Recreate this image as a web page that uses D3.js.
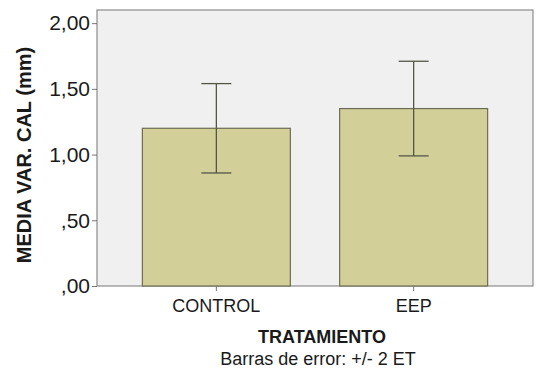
<!DOCTYPE html>
<html lang="es">
<head>
<meta charset="UTF-8">
<title>Media var. cal por tratamiento</title>
<script src="https://d3js.org/d3.v7.min.js"></script>
<style>
  body { margin: 0; background: #fff; }
  svg text { font-family: "Liberation Sans", Arial, sans-serif; fill: #1a1a1a; }
</style>
</head>
<body>
<div id="chart"></div>
<script>
  // datos
  var grupos = ["CONTROL", "EEP"];
  var medias = [1.20, 1.35];
  var errInf = [0.86, 0.99];
  var errSup = [1.54, 1.71];
  var ticksY = [0, 0.5, 1.0, 1.5, 2.0];

  var ancho = 537, alto = 376;
  var m = {arriba: 10, derecha: 4, abajo: 90, izq: 97};

  var svg = d3.select("#chart").append("svg")
      .attr("width", ancho)
      .attr("height", alto);

  var x = d3.scaleBand()
      .domain(grupos)
      .range([m.izq, ancho - m.derecha])
      .paddingInner(0.25)
      .paddingOuter(0.23);

  var y = d3.scaleLinear()
      .domain([0, 2.1])
      .range([alto - m.abajo, m.arriba]);

  var fmt = function(d) {
    var s = d3.format(".2f")(d).replace(".", ",");
    return s.indexOf("0,") === 0 ? s.slice(1) : s;
  };

  // fondo del area
  svg.append("rect")
      .attr("x", m.izq)
      .attr("y", m.arriba)
      .attr("width", ancho - m.derecha - m.izq)
      .attr("height", y(0) - m.arriba)
      .attr("fill", "#f0f0f0")
      .attr("stroke", "#8c8c8c")
      .attr("stroke-width", 1.2);

  // barras
  svg.selectAll(".barra")
    .data(grupos)
    .enter().append("rect")
      .attr("class", "barra")
      .attr("x", function(d) { return x(d); })
      .attr("y", function(d, i) { return y(medias[i]); })
      .attr("width", x.bandwidth())
      .attr("height", function(d, i) { return y(0) - y(medias[i]); })
      .attr("fill", "#d3cf99")
      .attr("stroke", "#6e6c55")
      .attr("stroke-width", 1.2);

  // barras de error
  var cap = 15;
  var err = svg.selectAll(".err")
    .data(grupos)
    .enter().append("g")
      .attr("class", "err")
      .attr("stroke", "#555548")
      .attr("stroke-width", 1.3);
  err.append("line")
      .attr("x1", function(d) { return x(d) + x.bandwidth() / 2; })
      .attr("x2", function(d) { return x(d) + x.bandwidth() / 2; })
      .attr("y1", function(d, i) { return y(errInf[i]); })
      .attr("y2", function(d, i) { return y(errSup[i]); });
  err.append("line")
      .attr("x1", function(d) { return x(d) + x.bandwidth() / 2 - cap; })
      .attr("x2", function(d) { return x(d) + x.bandwidth() / 2 + cap; })
      .attr("y1", function(d, i) { return y(errSup[i]); })
      .attr("y2", function(d, i) { return y(errSup[i]); });
  err.append("line")
      .attr("x1", function(d) { return x(d) + x.bandwidth() / 2 - cap; })
      .attr("x2", function(d) { return x(d) + x.bandwidth() / 2 + cap; })
      .attr("y1", function(d, i) { return y(errInf[i]); })
      .attr("y2", function(d, i) { return y(errInf[i]); });

  // ejes
  var ejeY = svg.append("g")
      .attr("transform", "translate(" + m.izq + ",0)")
      .call(d3.axisLeft(y).tickValues(ticksY).tickFormat(fmt).tickSize(5).tickPadding(2));
  ejeY.select(".domain").remove();
  ejeY.selectAll(".tick line").attr("stroke", "#777");
  ejeY.selectAll("text").style("font-size", "21px");

  var ejeX = svg.append("g")
      .attr("transform", "translate(0," + y(0) + ")")
      .call(d3.axisBottom(x).tickSize(5).tickPadding(8));
  ejeX.select(".domain").remove();
  ejeX.selectAll(".tick line").attr("stroke", "#777");
  ejeX.selectAll("text").style("font-size", "18px");

  // titulos
  svg.append("text")
      .attr("transform", "translate(31,155) rotate(-90)")
      .attr("text-anchor", "middle")
      .style("font-size", "20px")
      .style("font-weight", "bold")
      .text("MEDIA VAR. CAL (mm)");

  svg.append("text")
      .attr("x", 322)
      .attr("y", 343)
      .attr("text-anchor", "middle")
      .style("font-size", "18px")
      .style("font-weight", "bold")
      .text("TRATAMIENTO");

  svg.append("text")
      .attr("x", 318)
      .attr("y", 365)
      .attr("text-anchor", "middle")
      .style("font-size", "18px")
      .text("Barras de error: +/- 2 ET");
</script>
</body>
</html>
